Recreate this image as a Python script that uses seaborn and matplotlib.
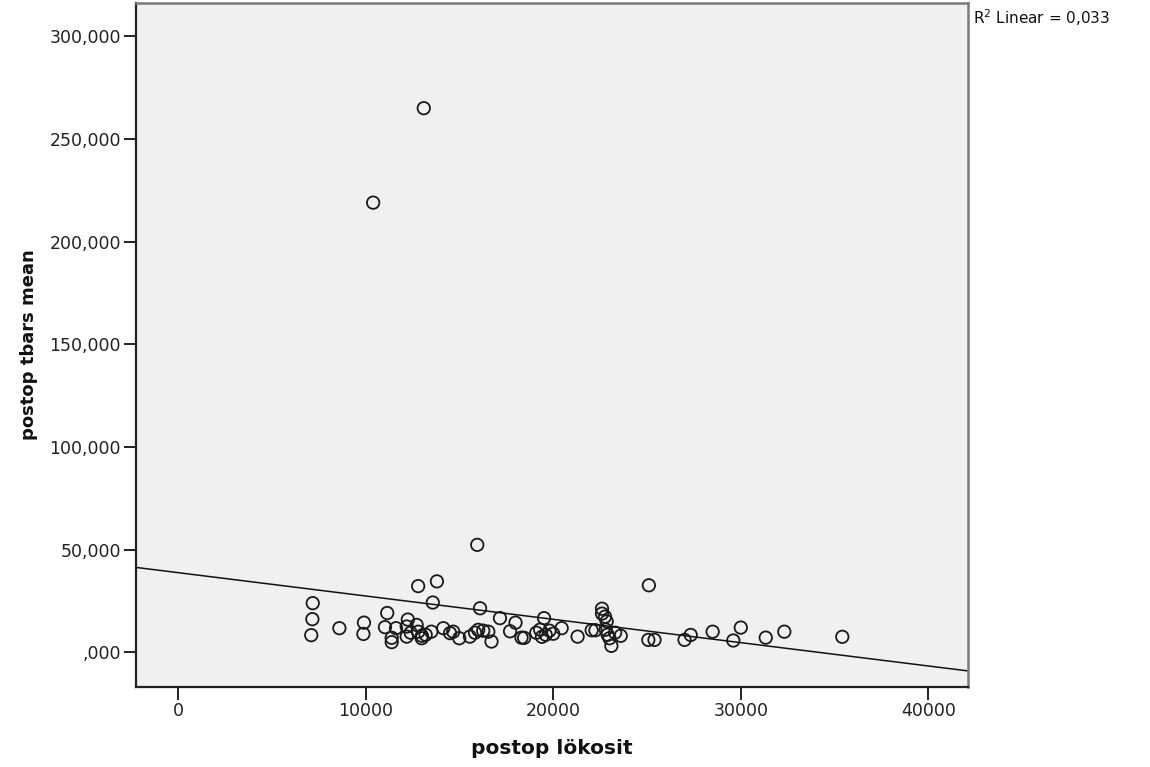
import numpy as np
import pandas as pd
import matplotlib
matplotlib.use("Agg")
import matplotlib.pyplot as plt
import seaborn as sns
from matplotlib.ticker import FuncFormatter, FixedLocator

# ---- data ----
lokosit = [
    13100, 10400, 15950, 25100, 12800, 13800, 13580, 7180, 16100, 22600,
    22600, 22850, 7160, 11150, 17160, 19510, 17990, 12250, 9910, 30000,
    7100, 8600, 9880, 11030, 11390, 11390, 11620, 12190, 12190, 12720,
    12810, 12990, 13200, 13500, 14140, 14500, 14670, 14990, 15560, 15830,
    16000, 16270, 16540, 16710, 17700, 18310, 18450, 19100, 19300, 19600,
    19800, 20000, 19400, 20450, 21300, 22050, 22250, 22800, 22900, 23000,
    23300, 23600, 23100, 25070, 25400, 27000, 27330, 28500, 29600, 31330,
    32320, 35410, 12400, 13000, 22760,
]
tbars = [
    265.0, 219.0, 52.3, 32.6, 32.2, 34.5, 24.2, 23.9, 21.4, 21.2,
    18.8, 15.0, 16.1, 19.1, 16.6, 16.6, 14.4, 15.9, 14.4, 12.0,
    8.3, 11.7, 8.9, 12.2, 7.0, 4.9, 11.7, 12.5, 7.6, 13.3,
    10.0, 6.8, 8.5, 10.0, 11.7, 9.3, 10.0, 6.8, 7.6, 9.5,
    10.9, 10.5, 10.0, 5.2, 10.2, 7.1, 7.0, 9.5, 11.0, 8.5,
    10.5, 9.0, 7.5, 11.7, 7.6, 10.7, 10.7, 11.0, 8.5, 6.8,
    9.5, 8.0, 3.1, 6.0, 6.0, 6.0, 8.4, 10.0, 5.7, 7.1,
    10.0, 7.5, 9.5, 8.0, 17.3,
]
x_ticks = [0, 10000, 20000, 30000, 40000]
y_ticks = [0, 50, 100, 150, 200, 250, 300]
x_label = "postop lökosit"
y_label = "postop tbars mean"
r2_label = "R$^{2}$ Linear = 0,033"

df = pd.DataFrame({x_label: lokosit, y_label: tbars})

sns.set_theme(style="white")
plt.rcParams["font.family"] = ["DejaVu Sans"]

fig = plt.figure(figsize=(11.5, 7.67), dpi=100)
ax = fig.add_axes([0.1183, 0.1047, 0.7234, 0.8918])
ax.set_facecolor("#F0F0F0")
ax.set_xlim(-2240, 42110)
ax.set_ylim(-16.8, 316.4)

sns.regplot(
    data=df, x=x_label, y=y_label, ax=ax, ci=None, truncate=False,
    scatter_kws=dict(s=80, facecolors="none", edgecolors="#1a1a1a", linewidths=1.3, alpha=1),
    line_kws=dict(color="#111111", linewidth=1.1),
)

ax.xaxis.set_major_locator(FixedLocator(x_ticks))
ax.yaxis.set_major_locator(FixedLocator(y_ticks))

def yfmt(v, pos):
    s = f"{v:.3f}".replace(".", ",")
    if s.startswith("0,"):
        s = s[1:]
    return s

ax.yaxis.set_major_formatter(FuncFormatter(yfmt))
ax.xaxis.set_major_formatter(FuncFormatter(lambda v, p: f"{int(v)}"))

ax.tick_params(axis="both", which="major", direction="out", length=9, width=1.4,
               color="#222222", labelsize=12.5, labelcolor="#222222", pad=2,
               bottom=True, left=True)

for side in ["left", "bottom"]:
    ax.spines[side].set_color("#222222")
    ax.spines[side].set_linewidth(1.6)
for side in ["top", "right"]:
    ax.spines[side].set_color("#7a7a7a")
    ax.spines[side].set_linewidth(1.8)

ax.set_xlabel(x_label, fontsize=14.5, fontweight="bold", color="#111111", labelpad=14)
ax.set_ylabel(y_label, fontsize=13, fontweight="bold", color="#111111", labelpad=8)

fig.text(0.8465, 0.977, r2_label, fontsize=11, color="#111111", va="center", ha="left")

fig.savefig("out.png", dpi=100, facecolor="white")
